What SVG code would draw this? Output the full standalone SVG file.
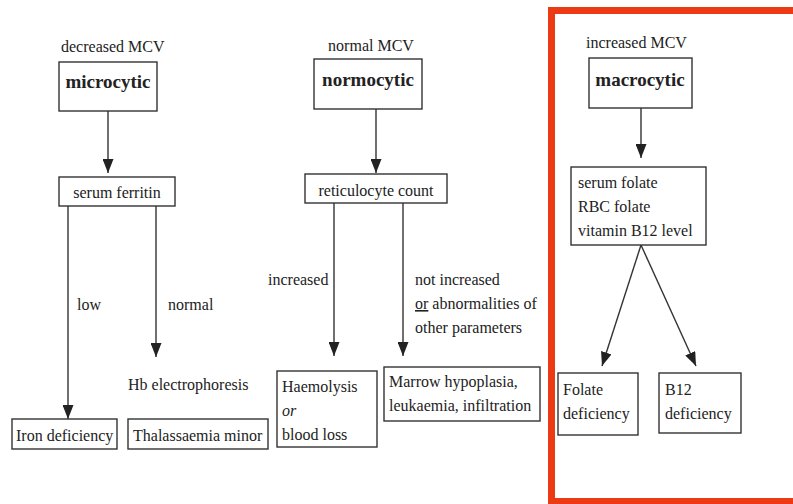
<svg xmlns="http://www.w3.org/2000/svg" width="793" height="504" viewBox="0 0 793 504">
<style>
text{font-size:16px;fill:#222}
.b{font-weight:bold;font-size:19px;text-anchor:middle}
.c{text-anchor:middle}
rect.n{fill:#fff;stroke:#333;stroke-width:1.4}
.e{stroke:#333;stroke-width:1.4;fill:none}
</style>
<defs>
<marker id="ah" markerUnits="userSpaceOnUse" markerWidth="14" markerHeight="11" refX="14" refY="5.5" orient="auto">
<path d="M0,0 L14,5.5 L0,11 z" fill="#222"/>
</marker>
</defs>
<rect x="0" y="0" width="793" height="504" fill="#fff"/>
<rect x="551.5" y="10.5" width="250" height="491" fill="none" stroke="#EC3B14" stroke-width="7"/>

<g font-family="'Liberation Serif', 'Times New Roman', 'DejaVu Serif', serif">
<g id="connectors">
<line class="e" x1="108" y1="111" x2="108" y2="173" marker-end="url(#ah)"/>
<line class="e" x1="68" y1="206" x2="68" y2="419" marker-end="url(#ah)"/>
<line class="e" x1="156" y1="206" x2="156" y2="357" marker-end="url(#ah)"/>
<line class="e" x1="376" y1="109" x2="376" y2="173" marker-end="url(#ah)"/>
<line class="e" x1="334" y1="203" x2="334" y2="356" marker-end="url(#ah)"/>
<line class="e" x1="403" y1="203" x2="403" y2="356" marker-end="url(#ah)"/>
<line class="e" x1="641" y1="108" x2="641" y2="158" marker-end="url(#ah)"/>
<line class="e" x1="641" y1="245" x2="602" y2="366" marker-end="url(#ah)"/>
<line class="e" x1="641" y1="245" x2="696" y2="366" marker-end="url(#ah)"/>
</g>

<g id="labels">
<text x="77" y="310">low</text>
<text x="168" y="310">normal</text>
<text x="268" y="285">increased</text>
<text x="415" y="285">not increased</text>
<text x="415" y="309"><tspan text-decoration="underline">or</tspan> abnormalities of</text>
<text x="415" y="333">other parameters</text>
</g>

<g id="microcytic">
<text x="61" y="52">decreased MCV</text>
<rect class="n" x="59" y="62" width="98" height="49"/>
<text class="b" x="108" y="88">microcytic</text>
</g>
<g id="serum-ferritin">
<rect class="n" x="59" y="177" width="116" height="29"/>
<text class="c" x="117" y="198">serum ferritin</text>
</g>
<g id="hb-electrophoresis">
<text x="128" y="390">Hb electrophoresis</text>
</g>
<g id="iron-deficiency">
<rect class="n" x="12" y="419" width="105" height="30"/>
<text x="16" y="441">Iron deficiency</text>
</g>
<g id="thalassaemia">
<rect class="n" x="128" y="419" width="140" height="30"/>
<text x="133" y="441">Thalassaemia minor</text>
</g>

<g id="normocytic">
<text class="c" x="371" y="51">normal MCV</text>
<rect class="n" x="314" y="59" width="108" height="50"/>
<text class="b" x="368" y="86">normocytic</text>
</g>
<g id="reticulocyte">
<rect class="n" x="305" y="174" width="142" height="29"/>
<text class="c" x="376" y="196">reticulocyte count</text>
</g>
<g id="haemolysis">
<rect class="n" x="277" y="371" width="100" height="76"/>
<text x="282" y="392">Haemolysis</text>
<text x="282" y="416" font-style="italic">or</text>
<text x="282" y="440">blood loss</text>
</g>
<g id="marrow">
<rect class="n" x="384" y="367" width="156" height="54"/>
<text x="389" y="387">Marrow hypoplasia,</text>
<text x="389" y="411">leukaemia, infiltration</text>
</g>

<g id="macrocytic">
<text x="586" y="48">increased MCV</text>
<rect class="n" x="589" y="58" width="103" height="50"/>
<text class="b" x="640" y="86">macrocytic</text>
</g>
<g id="folate-tests">
<rect class="n" x="571" y="167" width="135" height="78"/>
<text x="578" y="188">serum folate</text>
<text x="578" y="212">RBC folate</text>
<text x="578" y="236">vitamin B12 level</text>
</g>
<g id="folate-deficiency">
<rect class="n" x="558" y="373" width="80" height="62"/>
<text x="563" y="395">Folate</text>
<text x="563" y="419">deficiency</text>
</g>
<g id="b12-deficiency">
<rect class="n" x="659" y="373" width="82" height="60"/>
<text x="665" y="395">B12</text>
<text x="665" y="419">deficiency</text>
</g>
</g>
</svg>
